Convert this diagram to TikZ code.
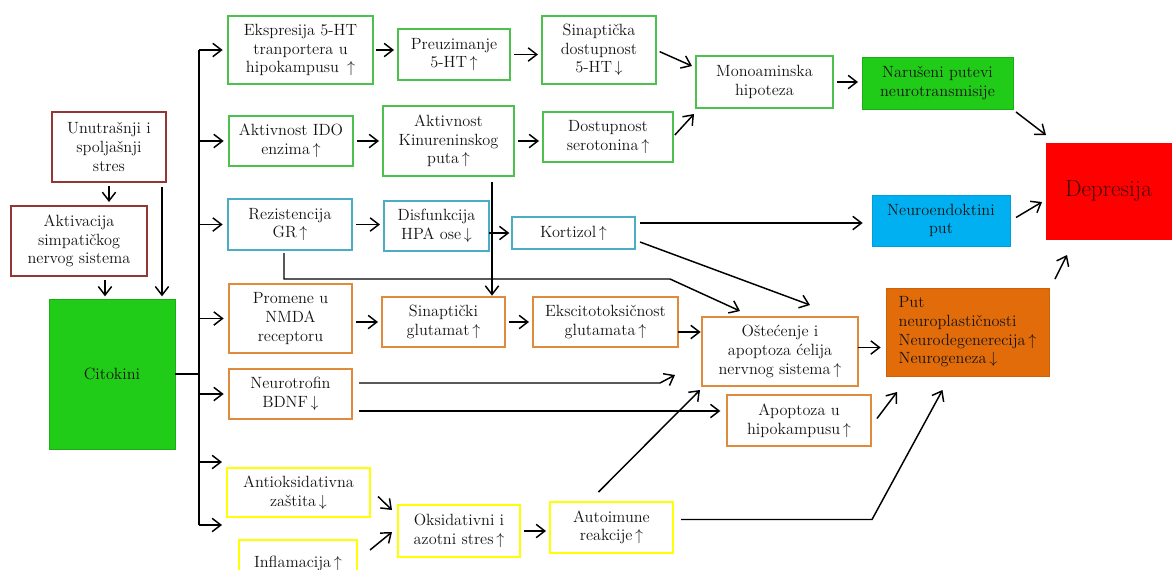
\documentclass[tikz,border=0pt]{standalone}
\usetikzlibrary{arrows.meta,calc}
\definecolor{txt}{RGB}{20,20,20}
\definecolor{cdred}{RGB}{148,54,52}
\definecolor{cgreen}{RGB}{76,194,76}
\definecolor{cblue}{RGB}{75,172,198}
\definecolor{corange}{RGB}{224,138,62}
\definecolor{cyellow}{RGB}{255,255,0}
\definecolor{fgreen}{RGB}{32,204,24}
\definecolor{fblue}{RGB}{0,176,240}
\definecolor{forange}{RGB}{227,108,10}
\definecolor{fred}{RGB}{255,0,0}
\definecolor{deptxt}{RGB}{70,8,8}
\newcommand{\bx}[7]{%
  \pgfmathsetmacro{\bxcx}{(#2+#4)/2}%
  \pgfmathsetmacro{\bxcy}{(#3+#5)/2}%
  \pgfmathsetmacro{\bxw}{(#4-#2)*0.75}%
  \pgfmathsetmacro{\bxh}{(#5-#3)*0.75}%
  \node[#6, minimum width=\bxw pt, minimum height=\bxh pt] (#1) at (\bxcx,\bxcy) {#7};}
\tikzset{
  base/.style={rectangle, inner sep=0pt, outer sep=0pt, align=center, text=txt,
    font=\fontsize{12.2}{14}\selectfont},
  redbox/.style={base, draw=cdred, line width=1.1pt, fill=white},
  grbox/.style={base, draw=cgreen, line width=1.1pt, fill=white},
  blbox/.style={base, draw=cblue, line width=1.1pt, fill=white},
  orbox/.style={base, draw=corange, line width=1.1pt, fill=white},
  yebox/.style={base, draw=cyellow, line width=2.2pt, fill=white},
  grfill/.style={base, fill=fgreen, draw=fgreen!85!black, line width=0.4pt},
  blfill/.style={base, fill=fblue, draw=fblue!90!black, line width=0.4pt},
  orfill/.style={base, fill=forange, draw=forange!90!black, line width=0.4pt, align=left},
  redfill/.style={base, fill=fred, draw=fred, text=deptxt, font=\fontsize{17.5}{20}\selectfont},
  ln/.style={line width=1.1pt, draw=black},
  arr/.style={ln, -{Straight Barb[length=6.5pt,width=10pt,line width=1.1pt]}},
}
\newcommand{\up}{\,$\uparrow$}
\newcommand{\dn}{\,$\downarrow$}
\begin{document}
\begin{tikzpicture}[x=0.75pt, y=-0.75pt]
\useasboundingbox (0,0) rectangle (1172,569);
% nodes
\bx{stres}{52}{112}{166}{182}{redbox}{Unutrašnji i\\spoljašnji\\stres}
\bx{aktiv}{11}{206}{147}{276}{redbox}{Aktivacija\\simpatičkog\\nervog sistema}
\bx{cito}{49}{299}{175}{449}{grfill}{Citokini}
\bx{eksp}{228}{16}{373}{84}{grbox}{Ekspresija 5-HT\\tranportera u\\hipokampusu \up}
\bx{preuz}{398}{29}{510}{80}{grbox}{Preuzimanje\\5-HT\up}
\bx{sinap}{542}{16}{656}{84}{grbox}{Sinaptička\\dostupnost\\5-HT\dn}
\bx{ido}{229}{116}{353}{166}{grbox}{Aktivnost IDO\\enzima\up}
\bx{kin}{383}{106}{514}{176}{grbox}{Aktivnost\\Kinureninskog\\puta\up}
\bx{dost}{543}{112}{673}{162}{grbox}{Dostupnost\\serotonina\up}
\bx{mono}{696}{56}{833}{108}{grbox}{Monoaminska\\hipoteza}
\bx{nar}{862}{57}{1013}{109}{grfill}{Narušeni putevi\\neurotransmisije}
\bx{dep}{1046}{143}{1171}{239}{redfill}{Depresija}
\bx{rez}{228}{199}{352}{250}{blbox}{Rezistencija\\GR\up}
\bx{disf}{384}{201}{489}{251}{blbox}{Disfunkcija\\HPA ose\dn}
\bx{kort}{512}{217}{635}{249}{blbox}{Kortizol\up}
\bx{neuroe}{872}{195}{1010}{246}{blfill}{Neuroendoktini\\put}
\bx{prom}{229}{284}{352}{353}{orbox}{Promene u\\NMDA\\receptoru}
\bx{sglu}{382}{297}{505}{347}{orbox}{Sinaptički\\glutamat\up}
\bx{eks}{533}{297}{678}{347}{orbox}{Ekscitotoksičnost\\glutamata\up}
\bx{ost}{702}{317}{858}{386}{orbox}{Oštećenje i\\apoptoza ćelija\\nervnog sistema\up}
\bx{put}{886}{288}{1049}{376}{orfill}{Put\\neuroplastičnosti\\Neurodegenerecija\up\\Neurogeneza\dn}
\bx{bdnf}{229}{369}{352}{419}{orbox}{Neurotrofin\\BDNF\dn}
\bx{apop}{727}{395}{871}{446}{orbox}{Apoptoza u\\hipokampusu\up}
\bx{antiox}{227}{468}{370}{517}{yebox}{Antioksidativna\\zaštita\dn}
\bx{inflam}{239}{540}{357}{586}{yebox}{Inflamacija\up}
\bx{oks}{398}{505}{520}{557}{yebox}{Oksidativni i\\azotni stres\up}
\bx{auto}{550}{502}{673}{553}{yebox}{Autoimune\\reakcije\up}
% left part
\draw[arr, shorten <=3pt, shorten >=3pt] (stres.south) -- (stres.south |- aktiv.north);
\coordinate (a1) at ($(aktiv.south)+(26,0)$);
\draw[arr, shorten <=3pt, shorten >=2pt] (a1) -- (a1 |- cito.north);
\coordinate (s1) at ($(stres.south east)+(-4,5)$);
\draw[arr, shorten >=2pt] (s1) -- (s1 |- cito.north);
% bus
\coordinate (bus) at ($(cito.east)+(24,0)$);
\coordinate (y1) at ($(antiox.north west)+(-5,-6)$);
\coordinate (y2) at ($(antiox.south west)+(-5,8)$);
\draw[ln] (cito.east) -- (bus);
\draw[ln] (bus |- eksp.west) -- (bus |- y2);
\foreach \t in {eksp,ido,rez,prom,bdnf}{
  \draw[arr, shorten >=4pt] (bus |- \t.west) -- (\t.west);
}
\draw[arr] (bus |- y1) -- (y1);
\draw[arr] (bus |- y2) -- (y2);
% top rows
\draw[arr, shorten <=2pt, shorten >=3pt] (eksp.east) -- (eksp.east -| preuz.west);
\draw[arr, shorten <=3pt, shorten >=3pt] (preuz.east) -- (preuz.east -| sinap.west);
\draw[arr, shorten <=3pt] (sinap.east) -- ($(mono.north west)+(-4,10)$);
\draw[arr, shorten <=3pt, shorten >=3pt] (ido.east) -- (ido.east -| kin.west);
\draw[arr, shorten <=3pt, shorten >=3pt] (kin.east) -- (kin.east -| dost.west);
\draw[arr, shorten <=2pt] (dost.east) -- ($(mono.south west)+(-2,6)$);
\draw[arr, shorten <=3pt, shorten >=3pt] (mono.east) -- (mono.east -| nar.west);
\draw[arr] ($(nar.south east)+(3,3)$) -- ($(dep.north west)+(0,-8)$);
% HPA row
\draw[arr, shorten <=3pt, shorten >=3pt] (rez.east) -- (rez.east -| disf.west);
\draw[arr, shorten >=2pt] (kort.west -| disf.east) -- (kort.west);
\coordinate (k1) at ($(kin.south east)+(-22,6)$);
\draw[arr, shorten >=1pt] (k1) -- (k1 |- sglu.north);
\coordinate (kt1) at ($(kort.east)+(5,-10)$);
\draw[arr, shorten >=7pt] (kt1) -- (kt1 -| neuroe.west);
\draw[arr] ($(kort.east)+(5,9)$) -- ($(ost.north)+(30,-12)$);
\coordinate (r1) at ($(rez.south)+(-6,3)$);
\coordinate (r2) at ($(rez.south)+(-6,29)$);
\coordinate (r3) at ($(r2)+(386,0)$);
\draw[arr] (r1) -- (r2) -- (r3) -- ($(ost.north)+(-40,-6)$);
% glutamate row
\coordinate (p1) at ($(sglu.west -| prom.east)+(4,0)$);
\draw[arr, shorten >=3pt] (p1) -- (sglu.west);
\draw[arr, shorten <=3pt, shorten >=3pt] (sglu.east) -- (sglu.east -| eks.west);
\coordinate (e1) at ($(eks.east)+(0,10)$);
\draw[arr, shorten >=1pt] (e1) -- (e1 -| ost.west);
\coordinate (o1) at ($(ost.east)+(0,-4)$);
\draw[arr, shorten >=4pt] (o1) -- (o1 -| put.west);
% BDNF
\coordinate (b1) at ($(bdnf.east)+(7,-11)$);
\coordinate (b2) at ($(b1)+(301,0)$);
\draw[arr] (b1) -- (b2) -- ($(ost.south west)+(-27,-11)$);
\coordinate (b3) at ($(bdnf.east)+(7,17)$);
\draw[arr, shorten >=5pt] (b3) -- (b3 -| apop.west);
\draw[arr] ($(apop.east)+(6,-2)$) -- ($(put.south west)+(11,16)$);
% oxidative
\draw[arr] ($(antiox.east)+(8,4)$) -- ($(oks.west)+(-6,-21)$);
\draw[arr] ($(inflam.north east)+(13,10)$) -- ($(oks.west)+(-6,1)$);
\draw[arr, shorten <=3pt, shorten >=3pt] (oks.east) -- (oks.east -| auto.west);
\coordinate (u1) at ($(auto.east)+(8,-8)$);
\coordinate (u2) at ($(u1)+(191,0)$);
\draw[arr] (u1) -- (u2) -- ($(put.south)+(-25,14)$);
\draw[arr] ($(auto.north)+(-13,-10)$) -- ($(ost.south west)+(-2,4)$);
% to depression
\draw[arr] ($(put.north east)+(6,-9)$) -- ($(dep.south west)+(21,16)$);
\draw[arr] ($(neuroe.east)+(6,-3)$) -- ($(dep.west)+(-4,11)$);
\end{tikzpicture}
\end{document}
